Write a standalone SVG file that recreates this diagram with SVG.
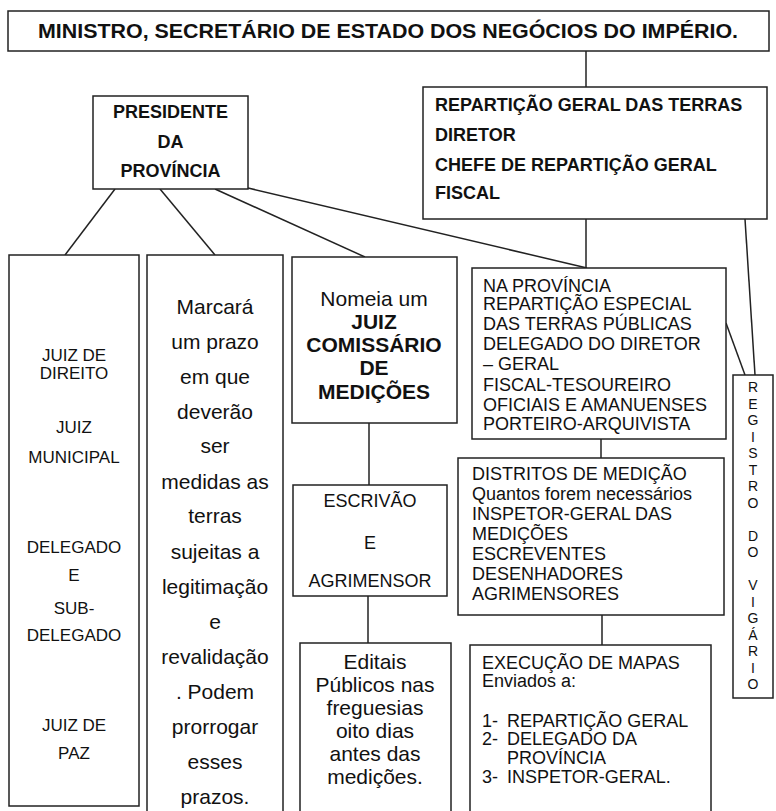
<svg xmlns="http://www.w3.org/2000/svg" width="776" height="811" viewBox="0 0 776 811">
<style>
.box{fill:#fff;stroke:#222;stroke-width:1.5}
.ln{stroke:#222;stroke-width:1.5;fill:none}
text{font-family:"Liberation Sans",Arial,sans-serif;fill:#111}
.b{font-weight:bold}
.c{text-anchor:middle}
.s17{font-size:17px}
.s18{font-size:18px}
.s21{font-size:21px}
.s14{font-size:14px}
</style>
<rect width="776" height="811" fill="#fff"/>
<g id="connectors">
<line class="ln" x1="586" y1="51" x2="586" y2="87"/>
<line class="ln" x1="115" y1="189" x2="65" y2="255"/>
<line class="ln" x1="160" y1="189" x2="215" y2="255"/>
<line class="ln" x1="215" y1="189" x2="365" y2="257"/>
<line class="ln" x1="248" y1="188" x2="587" y2="268"/>
<line class="ln" x1="586" y1="219" x2="586" y2="268"/>
<line class="ln" x1="745" y1="219" x2="755" y2="375"/>
<line class="ln" x1="726" y1="323" x2="745" y2="375"/>
<line class="ln" x1="601" y1="439" x2="601" y2="458"/>
<line class="ln" x1="602" y1="615" x2="602" y2="645"/>
<line class="ln" x1="369" y1="423" x2="369" y2="485"/>
<line class="ln" x1="368" y1="596" x2="368" y2="643"/>
</g>
<g id="ministro">
<rect class="box" x="8" y="11" width="761" height="40"/>
<text class="b c s21" x="388" y="38" textLength="700" lengthAdjust="spacingAndGlyphs">MINISTRO, SECRETÁRIO DE ESTADO DOS NEGÓCIOS DO IMPÉRIO.</text>
</g>
<g id="reparticao-geral">
<rect class="box" x="423" y="87" width="344" height="132"/>
<text class="b s18" x="435" y="111">REPARTIÇÃO GERAL DAS TERRAS</text>
<text class="b s18" x="435" y="141">DIRETOR</text>
<text class="b s18" x="435" y="171">CHEFE DE REPARTIÇÃO GERAL</text>
<text class="b s18" x="435" y="199">FISCAL</text>
</g>
<g id="presidente">
<rect class="box" x="93" y="96" width="155" height="93"/>
<text class="b c s18" x="170.5" y="118">PRESIDENTE</text>
<text class="b c s18" x="170.5" y="148">DA</text>
<text class="b c s18" x="170.5" y="177">PROVÍNCIA</text>
</g>
<g id="juizes">
<rect class="box" x="9" y="255" width="130" height="551"/>
<text class="c s17" x="74" y="361">JUIZ DE</text>
<text class="c s17" x="74" y="379">DIREITO</text>
<text class="c s17" x="74" y="433">JUIZ</text>
<text class="c s17" x="74" y="463">MUNICIPAL</text>
<text class="c s17" x="74" y="553">DELEGADO</text>
<text class="c s17" x="74" y="581">E</text>
<text class="c s17" x="74" y="614">SUB-</text>
<text class="c s17" x="74" y="641">DELEGADO</text>
<text class="c s17" x="74" y="731">JUIZ DE</text>
<text class="c s17" x="74" y="759">PAZ</text>
</g>
<g id="marcara">
<rect class="box" x="147" y="255" width="136" height="560"/>
<text class="c s21" x="215" y="314">Marcará</text>
<text class="c s21" x="215" y="349">um prazo</text>
<text class="c s21" x="215" y="384">em que</text>
<text class="c s21" x="215" y="419">deverão</text>
<text class="c s21" x="215" y="453">ser</text>
<text class="c s21" x="215" y="489">medidas as</text>
<text class="c s21" x="215" y="523">terras</text>
<text class="c s21" x="215" y="559">sujeitas a</text>
<text class="c s21" x="215" y="594">legitimação</text>
<text class="c s21" x="215" y="629">e</text>
<text class="c s21" x="215" y="664">revalidação</text>
<text class="c s21" x="215" y="699">. Podem</text>
<text class="c s21" x="215" y="734">prorrogar</text>
<text class="c s21" x="215" y="769">esses</text>
<text class="c s21" x="215" y="804">prazos.</text>
</g>
<g id="nomeia">
<rect class="box" x="292" y="257" width="165" height="166"/>
<text class="c s21" x="374" y="306">Nomeia um</text>
<text class="b c s21" x="374" y="329">JUIZ</text>
<text class="b c s21" x="374" y="352">COMISSÁRIO</text>
<text class="b c s21" x="374" y="375">DE</text>
<text class="b c s21" x="374" y="399">MEDIÇÕES</text>
</g>
<g id="escrivao">
<rect class="box" x="293" y="485" width="154" height="111"/>
<text class="c s18" x="370" y="506.5">ESCRIVÃO</text>
<text class="c s18" x="370" y="548.5">E</text>
<text class="c s18" x="370" y="586.5">AGRIMENSOR</text>
</g>
<g id="editais">
<rect class="box" x="300" y="643" width="151" height="175"/>
<text class="c s21" x="375" y="669">Editais</text>
<text class="c s21" x="375" y="692">Públicos nas</text>
<text class="c s21" x="375" y="715">freguesias</text>
<text class="c s21" x="375" y="738">oito dias</text>
<text class="c s21" x="375" y="761">antes das</text>
<text class="c s21" x="375" y="784">medições.</text>
</g>
<g id="na-provincia">
<rect class="box" x="472" y="268" width="254" height="171"/>
<text class="s18" x="483" y="291.5">NA PROVÍNCIA</text>
<text class="s18" x="483" y="310">REPARTIÇÃO ESPECIAL</text>
<text class="s18" x="483" y="330">DAS TERRAS PÚBLICAS</text>
<text class="s18" x="483" y="350">DELEGADO DO DIRETOR</text>
<text class="s18" x="483" y="370">– GERAL</text>
<text class="s18" x="483" y="391">FISCAL-TESOUREIRO</text>
<text class="s18" x="483" y="411">OFICIAIS E AMANUENSES</text>
<text class="s18" x="483" y="430">PORTEIRO-ARQUIVISTA</text>
</g>
<g id="distritos">
<rect class="box" x="458" y="458" width="266" height="157"/>
<text class="s18" x="472" y="479.5">DISTRITOS DE MEDIÇÃO</text>
<text class="s18" x="472" y="499.5">Quantos forem necessários</text>
<text class="s18" x="472" y="519.5">INSPETOR-GERAL DAS</text>
<text class="s18" x="472" y="539.5">MEDIÇÕES</text>
<text class="s18" x="472" y="559.5">ESCREVENTES</text>
<text class="s18" x="472" y="579.5">DESENHADORES</text>
<text class="s18" x="472" y="599.5">AGRIMENSORES</text>
</g>
<g id="execucao">
<rect class="box" x="470" y="645" width="241" height="175"/>
<text class="s18" x="482" y="668.5">EXECUÇÃO DE MAPAS</text>
<text class="s18" x="482" y="687">Enviados a:</text>
<text class="s18" x="482" y="726.5">1-</text>
<text class="s18" x="507" y="726.5">REPARTIÇÃO GERAL</text>
<text class="s18" x="482" y="745">2-</text>
<text class="s18" x="507" y="745">DELEGADO DA</text>
<text class="s18" x="507" y="764">PROVÍNCIA</text>
<text class="s18" x="482" y="782.5">3-</text>
<text class="s18" x="507" y="782.5">INSPETOR-GERAL.</text>
</g>
<g id="registro">
<rect class="box" x="733" y="375" width="40" height="323"/>
<text class="c s14" x="753" y="392">R</text>
<text class="c s14" x="753" y="408.5">E</text>
<text class="c s14" x="753" y="425">G</text>
<text class="c s14" x="753" y="441.5">I</text>
<text class="c s14" x="753" y="458">S</text>
<text class="c s14" x="753" y="474.5">T</text>
<text class="c s14" x="753" y="491">R</text>
<text class="c s14" x="753" y="507.5">O</text>
<text class="c s14" x="753" y="540.5">D</text>
<text class="c s14" x="753" y="557">O</text>
<text class="c s14" x="753" y="590">V</text>
<text class="c s14" x="753" y="606.5">I</text>
<text class="c s14" x="753" y="623">G</text>
<text class="c s14" x="753" y="639.5">Á</text>
<text class="c s14" x="753" y="656">R</text>
<text class="c s14" x="753" y="672.5">I</text>
<text class="c s14" x="753" y="689">O</text>
</g>
</svg>
